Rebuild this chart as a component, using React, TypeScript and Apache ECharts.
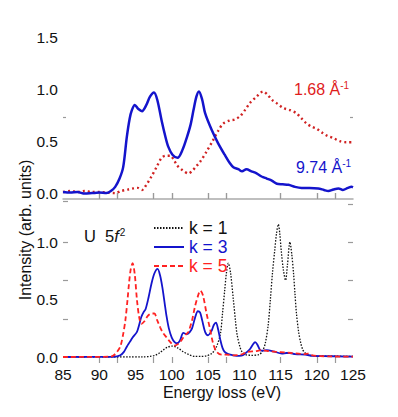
import React, { useEffect, useRef } from "react";
import * as echarts from "echarts";

// ---- Top panel (experiment) ----
const topBlueE = [85, 86, 87, 88, 89, 90, 91, 91.6, 92.2, 92.8, 93.3, 93.8, 94.2, 94.5, 94.9, 95.4, 95.9, 96.5, 97.0, 97.55, 98.0, 98.6, 99.1, 99.5, 100.1, 100.8, 101.5, 102.1, 102.6, 103.0, 103.4, 103.75, 104.2, 104.6, 105.5, 106.4, 107.3, 108.0, 108.5, 109.2, 109.7, 110.3, 111.0, 111.7, 112.4, 113.1, 113.8, 114.5, 115.3, 116.1, 117.0, 117.9, 119.0, 120.2, 121.0, 121.6, 122.3, 123.0, 123.6, 124.3, 124.8, 125];
const topBlueV = [0.01, 0.005, 0.01, -0.005, 0.0, 0.005, 0.0, 0.02, 0.06, 0.14, 0.25, 0.54, 0.72, 0.8, 0.85, 0.81, 0.79, 0.85, 0.93, 0.97, 0.9, 0.7, 0.55, 0.45, 0.37, 0.34, 0.42, 0.54, 0.66, 0.8, 0.93, 0.98, 0.9, 0.77, 0.61, 0.48, 0.37, 0.29, 0.25, 0.23, 0.21, 0.23, 0.21, 0.19, 0.16, 0.14, 0.12, 0.09, 0.085, 0.08, 0.06, 0.05, 0.05, 0.045, 0.03, 0.02, 0.035, 0.045, 0.03, 0.05, 0.06, 0.055];

const topRedE = [85, 86, 87, 88, 89, 90, 91, 92.2, 93.0, 94.0, 94.7, 95.3, 95.9, 96.5, 97.2, 97.9, 98.6, 99.2, 99.8, 100.3, 100.7, 101.5, 102.3, 102.9, 103.4, 103.9, 104.8, 105.7, 106.4, 107.1, 108.0, 108.7, 109.4, 110.1, 110.8, 111.7, 112.6, 113.2, 113.8, 114.6, 115.4, 116.3, 117.2, 117.9, 118.6, 119.3, 120.0, 120.8, 121.5, 122.3, 123.2, 124.1, 125];
const topRedV = [0.01, 0.02, 0.01, 0.02, 0.01, 0.01, 0.005, 0.0, 0.02, 0.035, 0.045, 0.05, 0.03, 0.08, 0.16, 0.25, 0.34, 0.36, 0.36, 0.32, 0.27, 0.22, 0.19, 0.22, 0.26, 0.3, 0.4, 0.51, 0.6, 0.67, 0.7, 0.71, 0.74, 0.8, 0.87, 0.93, 0.98, 0.95, 0.9, 0.86, 0.82, 0.8, 0.77, 0.72, 0.67, 0.64, 0.62, 0.58, 0.55, 0.53, 0.5, 0.49, 0.49];

// ---- Bottom panel (calculation, U 5f2) ----
const k1E = [85, 96, 97, 97.7, 98.3, 98.8, 99.4, 100.1, 100.8, 101.6, 102.4, 103.2, 104, 104.8, 105.5, 106.1, 106.7, 107.0, 107.3, 107.55, 107.8, 108.1, 108.5, 108.8, 109.0, 109.4, 109.7, 110.2, 111, 112, 112.5, 112.9, 113.3, 113.6, 113.9, 114.2, 114.45, 114.7, 114.9, 115.1, 115.4, 115.7, 115.95, 116.3, 116.55, 116.8, 117.0, 117.2, 117.5, 117.8, 118.1, 118.4, 119, 120, 125];
const k1V = [0, 0, 0.005, 0.015, 0.035, 0.06, 0.085, 0.095, 0.08, 0.045, 0.02, 0.005, 0.005, 0.01, 0.03, 0.08, 0.2, 0.38, 0.58, 0.74, 0.82, 0.74, 0.5, 0.31, 0.2, 0.09, 0.045, 0.02, 0.015, 0.02, 0.05, 0.12, 0.28, 0.5, 0.74, 0.93, 1.08, 1.16, 1.08, 0.93, 0.76, 0.67, 0.8, 1.005, 0.9, 0.73, 0.55, 0.38, 0.22, 0.12, 0.06, 0.035, 0.015, 0.01, 0.005];

const k3E = [85, 92, 92.9, 93.4, 93.8, 94.2, 94.6, 95.2, 95.5, 95.8, 96.1, 96.4, 96.8, 97.2, 97.6, 98.05, 98.4, 98.7, 99.0, 99.3, 99.6, 100.0, 100.4, 100.7, 101.1, 101.6, 102.1, 102.5, 102.8, 103.2, 103.6, 103.9, 104.2, 104.6, 105.0, 105.5, 105.8, 106.1, 106.4, 106.7, 107.0, 107.3, 107.8, 108.5, 109.3, 109.8, 110.3, 110.8, 111.2, 111.5, 111.8, 112.2, 112.6, 113.1, 114, 115.2, 115.8, 116.3, 117, 118.4, 119.5, 121, 123, 125];
const k3V = [0, 0.002, 0.015, 0.045, 0.09, 0.13, 0.17, 0.22, 0.28, 0.35, 0.39, 0.42, 0.52, 0.64, 0.73, 0.77, 0.71, 0.61, 0.48, 0.35, 0.25, 0.17, 0.13, 0.12, 0.14, 0.21, 0.2, 0.22, 0.25, 0.34, 0.4, 0.39, 0.32, 0.22, 0.19, 0.23, 0.28, 0.3, 0.24, 0.15, 0.08, 0.045, 0.025, 0.015, 0.01, 0.015, 0.04, 0.07, 0.11, 0.13, 0.11, 0.06, 0.055, 0.06, 0.05, 0.03, 0.035, 0.035, 0.025, 0.02, 0.01, 0.008, 0.005, 0.004];

const k5E = [85, 91.5, 91.9, 92.4, 92.9, 93.3, 93.6, 93.9, 94.1, 94.35, 94.6, 94.9, 95.2, 95.5, 95.8, 96.2, 96.7, 97.2, 97.6, 98.0, 98.4, 98.8, 99.3, 99.8, 100.4, 101.0, 101.6, 102.0, 102.3, 102.8, 103.2, 103.6, 103.95, 104.3, 104.8, 105.3, 105.7, 106.2, 106.9, 107.5, 108.5, 109.5, 110.5, 111.5, 112.4, 113.5, 114.5, 115.5, 116.5, 117.5, 118.2, 118.8, 119.4, 120.5, 122, 125];
const k5V = [0, 0.003, 0.01, 0.04, 0.09, 0.2, 0.32, 0.5, 0.64, 0.77, 0.82, 0.72, 0.5, 0.35, 0.29, 0.31, 0.36, 0.38, 0.38, 0.32, 0.26, 0.21, 0.17, 0.13, 0.1, 0.12, 0.17, 0.2, 0.22, 0.32, 0.44, 0.53, 0.58, 0.54, 0.38, 0.24, 0.12, 0.045, 0.02, 0.02, 0.015, 0.02, 0.045, 0.05, 0.06, 0.05, 0.045, 0.04, 0.035, 0.03, 0.025, 0.03, 0.015, 0.008, 0.005, 0.003];

const xTicks = [85, 90, 95, 100, 105, 110, 115, 120, 125];
const topYLabels = [0, 0.5, 1.0, 1.5];
const bottomYLabels = [0, 0.5, 1.0];
const seamTicks = [90, 92.5, 97.5, 100, 105, 107.5, 115, 120, 122.5];

const FONT = "'Liberation Sans', Arial, sans-serif";
const BLUE = "#1414cc";
const RED_DOT = "#d02222";
const RED_DASH = "#ff2222";
const GRAY = "#9a9a9a";

const zip = (xs: number[], ys: number[]) => xs.map((x, i) => [x, ys[i]]);

export default function App() {
  const ref = useRef<HTMLDivElement>(null);
  useEffect(() => {
    if (!ref.current) return;
    const chart = echarts.init(ref.current, null, { renderer: "svg" });
    const fmt = (v: number) => v.toFixed(1);
    const tickStyle = { color: GRAY, width: 1.2 };
    const option: any = {
      animation: false,
      textStyle: { fontFamily: FONT },
      grid: [
        { left: 63, right: 45, top: 37.5, height: 161.5 },
        { left: 63, right: 45, top: 199, height: 158 },
      ],
      xAxis: [
        {
          gridIndex: 0, type: "value", min: 85, max: 125, position: "bottom",
          axisLine: { show: true, onZero: false, lineStyle: { color: "#aaaaaa", width: 1.5 } },
          axisTick: { show: true, inside: true, length: 6, customValues: seamTicks, lineStyle: tickStyle },
          axisLabel: { show: false }, splitLine: { show: false },
        },
        {
          gridIndex: 0, type: "value", min: 85, max: 125, position: "top",
          axisLine: { show: false },
          axisTick: { show: true, inside: true, length: 5, customValues: seamTicks, lineStyle: tickStyle },
          axisLabel: { show: false }, splitLine: { show: false },
        },
        {
          gridIndex: 1, type: "value", min: 85, max: 125, interval: 5, position: "bottom",
          axisLine: { show: false }, axisTick: { show: false },
          axisLabel: { show: true, margin: 9, fontSize: 15.5, color: "#111", fontFamily: FONT, customValues: xTicks },
          splitLine: { show: false },
        },
        {
          gridIndex: 1, type: "value", min: 85, max: 125, position: "top",
          axisLine: { show: false },
          axisTick: { show: true, inside: true, length: 6, customValues: seamTicks, lineStyle: tickStyle },
          axisLabel: { show: false }, splitLine: { show: false },
        },
      ],
      yAxis: [
        {
          gridIndex: 0, type: "value", min: -0.057, max: 1.5, position: "left",
          axisLine: { show: false },
          axisTick: { show: true, inside: true, length: 3, customValues: [0.73], lineStyle: tickStyle },
          axisLabel: { show: true, margin: 5, fontSize: 15.5, color: "#111", fontFamily: FONT, customValues: topYLabels, formatter: fmt },
          splitLine: { show: false },
        },
        {
          gridIndex: 0, type: "value", min: -0.057, max: 1.5, position: "right",
          axisLine: { show: false },
          axisTick: { show: true, inside: true, length: 3, customValues: [0.73], lineStyle: tickStyle },
          axisLabel: { show: false }, splitLine: { show: false },
        },
        {
          gridIndex: 1, type: "value", min: 0, max: 1.381, position: "left",
          axisLine: { show: false },
          axisTick: { show: true, inside: true, length: 5, customValues: [0.33, 0.67, 1.0, 1.36], lineStyle: tickStyle },
          axisLabel: { show: true, margin: 5, fontSize: 15.5, color: "#111", fontFamily: FONT, customValues: bottomYLabels, formatter: fmt },
          splitLine: { show: false },
        },
        {
          gridIndex: 1, type: "value", min: 0, max: 1.381, position: "right",
          axisLine: { show: false },
          axisTick: { show: true, inside: true, length: 5, customValues: [0.33, 0.67, 1.0, 1.335], lineStyle: tickStyle },
          axisLabel: { show: false }, splitLine: { show: false },
        },
      ],
      legend: {
        orient: "vertical", left: 148, top: 214, itemWidth: 30, itemHeight: 14, itemGap: 1,
        itemStyle: { opacity: 0 },
        textStyle: { fontSize: 17.5, fontFamily: FONT },
        data: [
          { name: "k = 1", textStyle: { color: "#111" } },
          { name: "k = 3", textStyle: { color: BLUE } },
          { name: "k = 5", textStyle: { color: RED_DASH } },
        ],
      },
      series: [
        {
          name: "1.68", type: "line", xAxisIndex: 0, yAxisIndex: 0, data: zip(topRedE, topRedV),
          showSymbol: false, symbol: "none", smooth: 0.3,
          lineStyle: { color: RED_DOT, width: 2.4, type: [2, 3] },
        },
        {
          name: "9.74", type: "line", xAxisIndex: 0, yAxisIndex: 0, data: zip(topBlueE, topBlueV),
          showSymbol: false, symbol: "none", smooth: 0.3,
          lineStyle: { color: BLUE, width: 2.5 },
        },
        {
          name: "k = 1", type: "line", xAxisIndex: 2, yAxisIndex: 2, data: zip(k1E, k1V),
          showSymbol: false, symbol: "none", smooth: 0.3, color: "#111",
          lineStyle: { color: "#111", width: 1.3, type: [1.5, 1.5] },
        },
        {
          name: "k = 3", type: "line", xAxisIndex: 2, yAxisIndex: 2, data: zip(k3E, k3V),
          showSymbol: false, symbol: "none", smooth: 0.3, color: BLUE,
          lineStyle: { color: BLUE, width: 1.8 },
        },
        {
          name: "k = 5", type: "line", xAxisIndex: 2, yAxisIndex: 2, data: zip(k5E, k5V),
          showSymbol: false, symbol: "none", smooth: 0.3, color: RED_DASH,
          lineStyle: { color: RED_DASH, width: 1.8, type: [5, 3] },
        },
      ],
      graphic: [
        {
          type: "text", left: 294, top: 80,
          style: {
            text: "{b|1.68 Å}{s|-1}", fill: "#e01c1c",
            rich: {
              b: { fontSize: 16, fontFamily: FONT, fill: "#e01c1c" },
              s: { fontSize: 10, fontFamily: FONT, fill: "#e01c1c", verticalAlign: "top", padding: [0, 0, 8, 0] },
            },
          },
        },
        {
          type: "text", left: 296, top: 158,
          style: {
            text: "{b|9.74 Å}{s|-1}", fill: BLUE,
            rich: {
              b: { fontSize: 16, fontFamily: FONT, fill: BLUE },
              s: { fontSize: 10, fontFamily: FONT, fill: BLUE, verticalAlign: "top", padding: [0, 0, 8, 0] },
            },
          },
        },
        {
          type: "text", left: 84, top: 227,
          style: {
            text: "{n|U  5}{i|f}{s|2}", fill: "#111",
            rich: {
              n: { fontSize: 16.5, fontFamily: FONT, fill: "#111" },
              i: { fontSize: 16.5, fontFamily: FONT, fontStyle: "italic", fill: "#111" },
              s: { fontSize: 10, fontFamily: FONT, fill: "#111", padding: [0, 0, 8, 1] },
            },
          },
        },
        {
          type: "text", x: 222, y: 392,
          style: { text: "Energy loss (eV)", fontSize: 16, fontFamily: FONT, fill: "#111", align: "center", verticalAlign: "middle" },
        },
        {
          type: "text", x: 25, y: 230, rotation: Math.PI / 2,
          style: { text: "Intensity (arb. units)", fontSize: 16, fontFamily: FONT, fill: "#111", align: "center", verticalAlign: "middle" },
        },
      ],
    };
    chart.setOption(option);
    return () => chart.dispose();
  }, []);
  return (
    <div
      ref={ref}
      style={{ position: "fixed", left: 0, top: 0, width: 398, height: 417, background: "#fff" }}
    />
  );
}
